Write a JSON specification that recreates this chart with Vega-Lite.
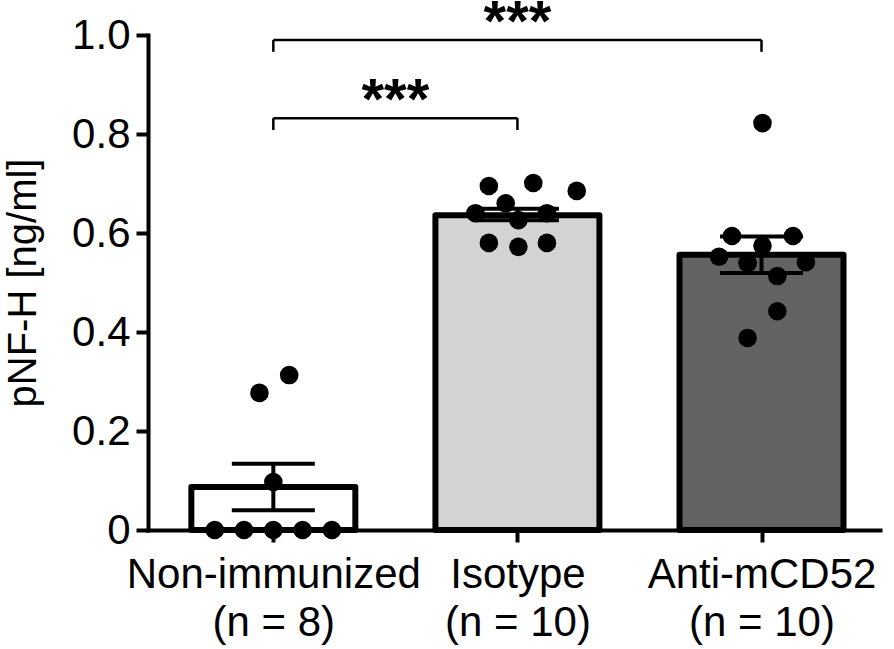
{
  "$schema": "https://vega.github.io/schema/vega-lite/v6.json",
  "autosize": {"type": "none"},
  "padding": {"left": 148, "top": 35, "right": 14, "bottom": 119},
  "width": 732,
  "height": 495,
  "background": "white",
  "config": {
    "view": {"stroke": null},
    "font": "Liberation Sans",
    "axis": {"grid": false, "domainColor": "black", "tickColor": "black", "labelColor": "black", "titleColor": "black"}
  },
  "datasets": {
    "groups": [
      {"group": "Non-immunized", "idx": 0, "mean": 0.087, "lo": 0.040, "hi": 0.134},
      {"group": "Isotype", "idx": 1, "mean": 0.636, "lo": 0.626, "hi": 0.649},
      {"group": "Anti-mCD52", "idx": 2, "mean": 0.556, "lo": 0.519, "hi": 0.593}
    ],
    "points": [
      {"group": "Non-immunized", "x": -0.24, "value": 0.0},
      {"group": "Non-immunized", "x": -0.12, "value": 0.0},
      {"group": "Non-immunized", "x": 0.0, "value": 0.0},
      {"group": "Non-immunized", "x": 0.12, "value": 0.0},
      {"group": "Non-immunized", "x": 0.24, "value": 0.0},
      {"group": "Non-immunized", "x": 0.0, "value": 0.097},
      {"group": "Non-immunized", "x": -0.057, "value": 0.277},
      {"group": "Non-immunized", "x": 0.065, "value": 0.313},
      {"group": "Isotype", "x": 0.883, "value": 0.695},
      {"group": "Isotype", "x": 1.065, "value": 0.701},
      {"group": "Isotype", "x": 1.243, "value": 0.685},
      {"group": "Isotype", "x": 0.828, "value": 0.640},
      {"group": "Isotype", "x": 0.952, "value": 0.660},
      {"group": "Isotype", "x": 1.004, "value": 0.626},
      {"group": "Isotype", "x": 1.121, "value": 0.640},
      {"group": "Isotype", "x": 0.883, "value": 0.580},
      {"group": "Isotype", "x": 1.004, "value": 0.572},
      {"group": "Isotype", "x": 1.121, "value": 0.580},
      {"group": "Anti-mCD52", "x": 2.004, "value": 0.822},
      {"group": "Anti-mCD52", "x": 1.879, "value": 0.594},
      {"group": "Anti-mCD52", "x": 2.129, "value": 0.594},
      {"group": "Anti-mCD52", "x": 2.004, "value": 0.574},
      {"group": "Anti-mCD52", "x": 1.826, "value": 0.552},
      {"group": "Anti-mCD52", "x": 1.943, "value": 0.539},
      {"group": "Anti-mCD52", "x": 2.182, "value": 0.541},
      {"group": "Anti-mCD52", "x": 2.065, "value": 0.513},
      {"group": "Anti-mCD52", "x": 2.065, "value": 0.442},
      {"group": "Anti-mCD52", "x": 1.943, "value": 0.388}
    ],
    "brackets": [
      {"x1": 0, "x2": 2, "y1": 0.990, "y2": 0.990},
      {"x1": 0, "x2": 0, "y1": 0.990, "y2": 0.966},
      {"x1": 2, "x2": 2, "y1": 0.990, "y2": 0.966},
      {"x1": 0, "x2": 1, "y1": 0.832, "y2": 0.832},
      {"x1": 0, "x2": 0, "y1": 0.832, "y2": 0.808},
      {"x1": 1, "x2": 1, "y1": 0.832, "y2": 0.808}
    ],
    "stars": [
      {"x": 1.0, "y": 0.990, "label": "***"},
      {"x": 0.5, "y": 0.832, "label": "***"}
    ]
  },
  "layer": [
    {
      "data": {"name": "groups"},
      "mark": {"type": "bar", "width": 164, "stroke": "black", "strokeWidth": 6, "strokeJoin": "round"},
      "encoding": {
        "x": {
          "field": "idx", "type": "quantitative",
          "scale": {"domain": [-0.493, 2.465], "nice": false, "zero": false},
          "axis": {
            "values": [0, 1, 2],
            "title": null,
            "labelExpr": "datum.value == 0 ? ['Non-immunized', '(n = 8)'] : datum.value == 1 ? ['Isotype', '(n = 10)'] : ['Anti-mCD52', '(n = 10)']",
            "labelFontSize": 42,
            "labelLineHeight": 48,
            "labelPadding": 12,
            "labelLimit": 0,
            "labelOverlap": false,
            "labelFlush": false,
            "tickSize": 12,
            "tickWidth": 4,
            "domainWidth": 4,
            "domainCap": "square"
          }
        },
        "y": {
          "field": "mean", "type": "quantitative",
          "scale": {"domain": [0, 1], "nice": false},
          "axis": {
            "values": [0, 0.2, 0.4, 0.6, 0.8, 1.0],
            "labelExpr": "datum.value == 0 ? '0' : format(datum.value, '.1f')",
            "title": "pNF-H [ng/ml]",
            "titleFontSize": 40,
            "titleFontWeight": "normal",
            "titlePadding": 28,
            "labelFontSize": 42,
            "labelPadding": 6,
            "tickSize": 12,
            "tickWidth": 4,
            "domainWidth": 4,
            "domainCap": "square"
          }
        },
        "fill": {
          "field": "group", "type": "nominal",
          "scale": {"domain": ["Non-immunized", "Isotype", "Anti-mCD52"], "range": ["#ffffff", "#d3d3d3", "#636363"]},
          "legend": null
        }
      }
    },
    {
      "data": {"name": "points"},
      "mark": {"type": "circle", "size": 346, "color": "black", "opacity": 1},
      "encoding": {
        "x": {"field": "x", "type": "quantitative"},
        "y": {"field": "value", "type": "quantitative"}
      }
    },
    {
      "data": {"name": "groups"},
      "mark": {"type": "rule", "color": "black", "strokeWidth": 4},
      "encoding": {
        "x": {"field": "idx", "type": "quantitative"},
        "y": {"field": "lo", "type": "quantitative"},
        "y2": {"field": "hi"}
      }
    },
    {
      "data": {"name": "groups"},
      "mark": {"type": "tick", "orient": "horizontal", "color": "black", "size": 83, "thickness": 4, "opacity": 1},
      "encoding": {
        "x": {"field": "idx", "type": "quantitative"},
        "y": {"field": "lo", "type": "quantitative"}
      }
    },
    {
      "data": {"name": "groups"},
      "mark": {"type": "tick", "orient": "horizontal", "color": "black", "size": 83, "thickness": 4, "opacity": 1},
      "encoding": {
        "x": {"field": "idx", "type": "quantitative"},
        "y": {"field": "hi", "type": "quantitative"}
      }
    },
    {
      "data": {"name": "brackets"},
      "mark": {"type": "rule", "color": "black", "strokeWidth": 2.5},
      "encoding": {
        "x": {"field": "x1", "type": "quantitative"},
        "x2": {"field": "x2"},
        "y": {"field": "y1", "type": "quantitative"},
        "y2": {"field": "y2"}
      }
    },
    {
      "data": {"name": "stars"},
      "mark": {"type": "text", "fontSize": 58, "fontWeight": "bold", "color": "black", "baseline": "alphabetic", "align": "center", "dy": 1},
      "encoding": {
        "x": {"field": "x", "type": "quantitative"},
        "y": {"field": "y", "type": "quantitative"},
        "text": {"field": "label"}
      }
    }
  ]
}
